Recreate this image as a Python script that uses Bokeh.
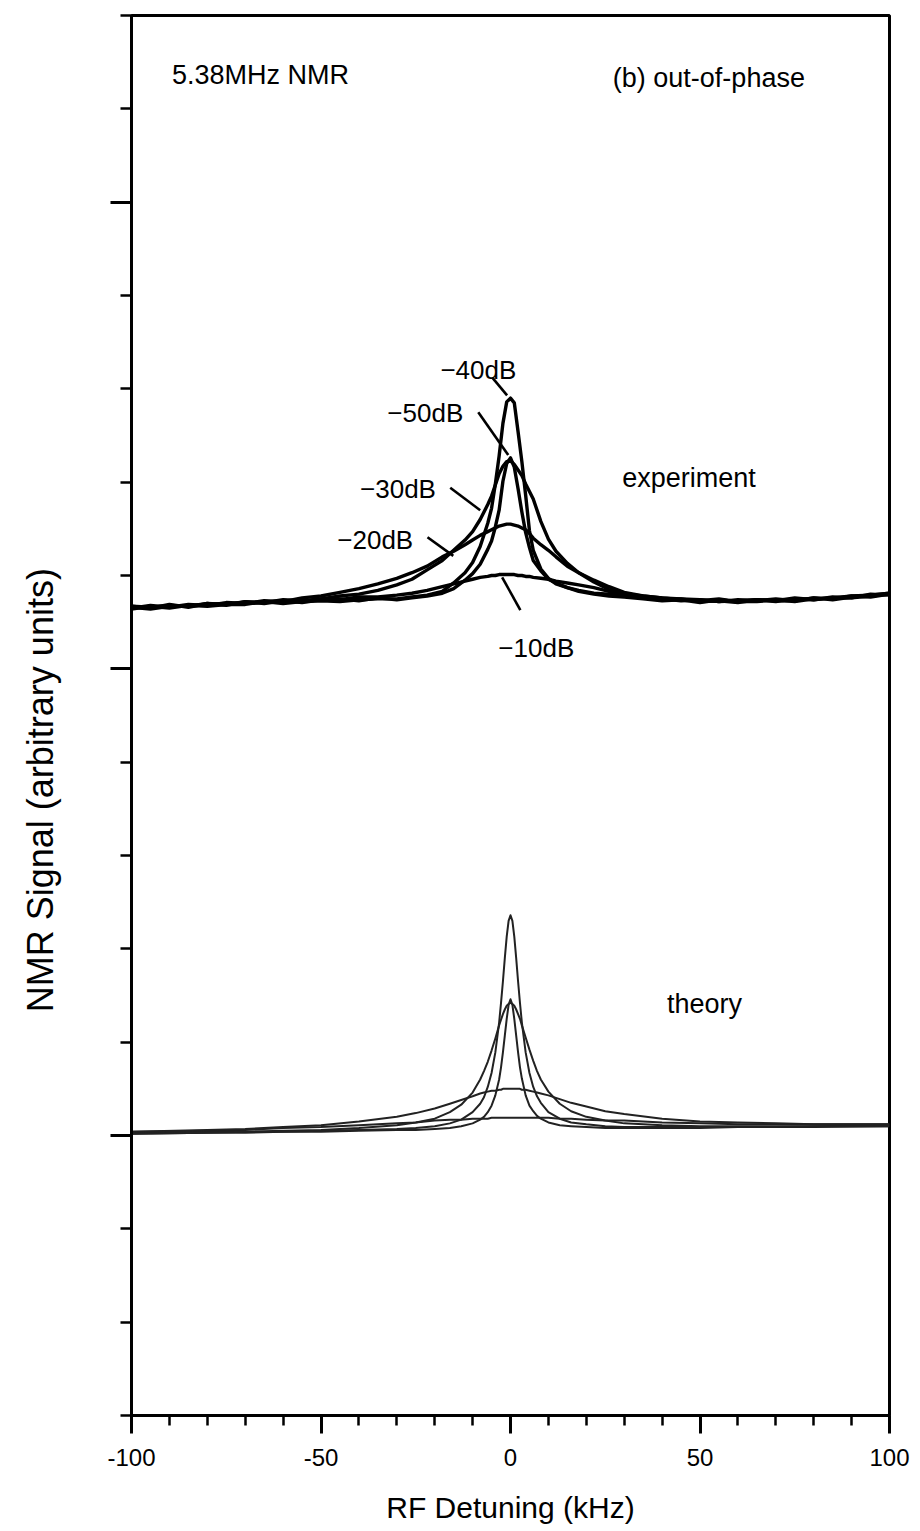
import math
from bokeh.plotting import figure
from bokeh.layouts import row
from bokeh.models import Range1d, SingleIntervalTicker, Label
from bokeh.core.properties import value
from bokeh.embed import file_html
from bokeh.resources import INLINE

FONT = "Liberation Sans"

# ---- measured out-of-phase NMR traces (RF detuning in kHz, signal in arb. units)
exp_detuning = [-100, -95, -90, -85, -80, -75, -70, -65, -60, -55, -50, -45, -40, -35, -30,
                -26, -22, -18, -15, -12, -10, -8, -6, -5, -4, -3, -2, -1, 0,
                1, 2, 3, 4, 5, 6, 8, 10, 12, 15, 18, 22, 26,
                30, 35, 40, 45, 50, 55, 60, 65, 70, 75, 80, 85, 90, 95, 100]

exp_m10 = [5.67, 5.65, 5.69, 5.66, 5.70, 5.69, 5.72, 5.70, 5.73, 5.72, 5.75, 5.74, 5.77, 5.77, 5.79,
           5.81, 5.84, 5.88, 5.91, 5.94, 5.96, 5.98, 5.99, 6.00, 6.00, 6.01, 6.01, 6.01, 6.01,
           6.01, 6.00, 6.00, 5.99, 5.99, 5.98, 5.97, 5.96, 5.94, 5.92, 5.90, 5.87, 5.83,
           5.80, 5.78, 5.76, 5.75, 5.74, 5.72, 5.74, 5.73, 5.75, 5.73, 5.76, 5.75, 5.78, 5.79, 5.81]

exp_m20 = [5.65, 5.68, 5.66, 5.69, 5.68, 5.71, 5.70, 5.73, 5.72, 5.76, 5.78, 5.82, 5.86, 5.91, 5.97,
           6.03, 6.10, 6.20, 6.26, 6.33, 6.38, 6.43, 6.47, 6.49, 6.51, 6.53, 6.54, 6.55, 6.55,
           6.54, 6.53, 6.51, 6.49, 6.45, 6.40, 6.33, 6.27, 6.20, 6.10, 6.03, 5.95, 5.88,
           5.82, 5.78, 5.76, 5.74, 5.73, 5.75, 5.72, 5.74, 5.73, 5.76, 5.74, 5.77, 5.76, 5.80, 5.79]

exp_m30 = [5.67, 5.66, 5.68, 5.67, 5.70, 5.68, 5.72, 5.71, 5.74, 5.73, 5.75, 5.78, 5.80, 5.84, 5.90,
           5.96, 6.06, 6.16, 6.27, 6.38, 6.47, 6.60, 6.76, 6.85, 6.97, 7.09, 7.17, 7.22, 7.23,
           7.19, 7.13, 7.07, 6.98, 6.90, 6.82, 6.58, 6.39, 6.26, 6.13, 6.03, 5.93, 5.85,
           5.80, 5.76, 5.75, 5.73, 5.74, 5.72, 5.73, 5.74, 5.72, 5.75, 5.74, 5.76, 5.78, 5.77, 5.80]

exp_m40 = [5.64, 5.67, 5.65, 5.68, 5.67, 5.69, 5.69, 5.72, 5.70, 5.72, 5.73, 5.72, 5.74, 5.75, 5.75,
           5.77, 5.79, 5.83, 5.92, 6.03, 6.14, 6.31, 6.56, 6.72, 6.98, 7.28, 7.63, 7.86, 7.90,
           7.85, 7.54, 7.22, 6.86, 6.48, 6.27, 6.07, 5.97, 5.91, 5.87, 5.84, 5.81, 5.80,
           5.78, 5.77, 5.74, 5.75, 5.72, 5.73, 5.71, 5.74, 5.73, 5.73, 5.76, 5.74, 5.77, 5.79, 5.81]

exp_m50 = [5.66, 5.64, 5.67, 5.67, 5.69, 5.70, 5.70, 5.71, 5.73, 5.71, 5.74, 5.75, 5.73, 5.76, 5.74,
           5.76, 5.78, 5.81, 5.86, 5.95, 6.02, 6.12, 6.28, 6.37, 6.52, 6.70, 7.01, 7.20, 7.26,
           7.16, 6.93, 6.68, 6.46, 6.30, 6.16, 6.05, 5.96, 5.92, 5.87, 5.83, 5.80, 5.78,
           5.77, 5.75, 5.73, 5.74, 5.71, 5.74, 5.72, 5.72, 5.74, 5.72, 5.75, 5.76, 5.76, 5.78, 5.80]

# ---- calculated line shapes for the same RF levels
th_detuning = [-100, -80, -70, -60, -50, -40, -30, -25, -20, -16, -13, -10, -8, -7, -6, -5, -4,
               -3, -2.5, -2, -1.5, -1, -0.5, 0, 0.5, 1, 1.5, 2, 2.5, 3,
               4, 5, 6, 7, 8, 10, 13, 16, 20, 25, 30, 40, 50, 60, 70, 80, 100]

th_m40 = [0.02, 0.03, 0.04, 0.04, 0.05, 0.06, 0.07, 0.08, 0.10, 0.13, 0.17, 0.25, 0.34, 0.41, 0.52, 0.67, 0.89,
          1.21, 1.42, 1.65, 1.90, 2.13, 2.30, 2.36, 2.30, 2.13, 1.90, 1.65, 1.42, 1.21,
          0.89, 0.67, 0.52, 0.42, 0.35, 0.25, 0.18, 0.14, 0.12, 0.10, 0.09, 0.09, 0.09, 0.09, 0.09, 0.10, 0.10]

th_m50 = [0.02, 0.03, 0.03, 0.04, 0.04, 0.05, 0.06, 0.06, 0.07, 0.08, 0.10, 0.13, 0.17, 0.20, 0.25, 0.32, 0.43,
          0.60, 0.73, 0.89, 1.07, 1.25, 1.40, 1.46, 1.40, 1.25, 1.07, 0.89, 0.73, 0.61,
          0.43, 0.32, 0.26, 0.21, 0.18, 0.14, 0.11, 0.10, 0.09, 0.08, 0.08, 0.08, 0.08, 0.09, 0.09, 0.09, 0.10]

th_m30 = [0.03, 0.04, 0.04, 0.05, 0.06, 0.08, 0.11, 0.14, 0.18, 0.25, 0.33, 0.46, 0.60, 0.69, 0.79, 0.91, 1.04,
          1.18, 1.24, 1.30, 1.35, 1.39, 1.41, 1.42, 1.41, 1.39, 1.35, 1.30, 1.25, 1.18,
          1.05, 0.92, 0.80, 0.69, 0.60, 0.47, 0.34, 0.26, 0.20, 0.16, 0.13, 0.11, 0.10, 0.10, 0.10, 0.10, 0.11]

th_m20 = [0.04, 0.06, 0.07, 0.09, 0.11, 0.15, 0.20, 0.24, 0.29, 0.34, 0.38, 0.42, 0.45, 0.46, 0.47, 0.48, 0.48,
          0.49, 0.49, 0.50, 0.50, 0.50, 0.50, 0.50, 0.50, 0.50, 0.50, 0.50, 0.50, 0.49,
          0.49, 0.48, 0.47, 0.46, 0.45, 0.43, 0.39, 0.35, 0.31, 0.26, 0.23, 0.18, 0.15, 0.14, 0.13, 0.12, 0.12]

th_m10 = [0.04, 0.05, 0.06, 0.08, 0.09, 0.11, 0.13, 0.14, 0.16, 0.17, 0.17, 0.18, 0.18, 0.18, 0.18, 0.19, 0.19,
          0.19, 0.19, 0.19, 0.19, 0.19, 0.19, 0.19, 0.19, 0.19, 0.19, 0.19, 0.19, 0.19,
          0.19, 0.19, 0.19, 0.19, 0.19, 0.19, 0.18, 0.18, 0.17, 0.16, 0.16, 0.14, 0.13, 0.12, 0.12, 0.12, 0.12]

# ---- RF level labels: text, anchor, and leader line end points (data units)
level_text = ["\u221240dB", "\u221250dB", "\u221230dB", "\u221220dB", "\u221210dB"]
level_x = [-18.5, -32.5, -39.7, -45.7, -3.2]
level_y = [8.20, 7.74, 6.93, 6.38, 5.22]
leader_x0 = [-4.8, -8.5, -15.9, -21.9, -2.2]
leader_y0 = [8.12, 7.75, 6.94, 6.41, 5.98]
leader_x1 = [-0.9, -0.6, -8.0, -15.1, 2.6]
leader_y1 = [7.93, 7.29, 6.70, 6.21, 5.63]

Y_TITLE = "NMR Signal (arbitrary units)"
Y_TITLE_POS = (40, 3.70)   # strip x (px), signal units
LEFT_STRIP = 70            # width of the strip holding the vertical axis title

signal_range = Range1d(-3, 12)

p = figure(width=920 - LEFT_STRIP, height=1531, output_backend="svg", toolbar_location=None,
           x_range=Range1d(-100, 100), y_range=signal_range,
           min_border_left=131 - LEFT_STRIP, min_border_right=31,
           min_border_top=15, min_border_bottom=116)
p.background_fill_color = "white"
p.border_fill_color = "white"
p.xgrid.visible = False
p.ygrid.visible = False
p.outline_line_color = "black"
p.outline_line_width = 3

# narrow strip carrying the vertical axis title, sharing the signal scale
strip = figure(width=LEFT_STRIP, height=1531, output_backend="svg", toolbar_location=None,
               x_range=Range1d(0, LEFT_STRIP), y_range=signal_range,
               x_axis_location=None, y_axis_location=None,
               min_border_left=0, min_border_right=0, min_border_top=15, min_border_bottom=116)
strip.outline_line_color = None
strip.background_fill_color = "white"
strip.border_fill_color = "white"
strip.xgrid.visible = False
strip.ygrid.visible = False
strip.text(x=[Y_TITLE_POS[0]], y=[Y_TITLE_POS[1]], text=[Y_TITLE], angle=math.pi / 2,
           text_font=value(FONT), text_font_size="36px", text_color="black",
           text_align="center", text_baseline="middle")

# theory: thin grey-black lines
for ys in (th_m10, th_m20, th_m30, th_m50, th_m40):
    p.line(th_detuning, ys, line_color="#222222", line_width=2.0, line_join="round")

# experiment: heavy black traces
for ys in (exp_m10, exp_m20, exp_m30, exp_m50, exp_m40):
    p.line(exp_detuning, ys, line_color="black", line_width=3.4, line_join="round")

p.segment(leader_x0, leader_y0, leader_x1, leader_y1, line_color="black", line_width=2.6)

for t, x, y in zip(level_text, level_x, level_y):
    p.add_layout(Label(x=x, y=y, text=t, text_font=FONT, text_font_size="26px",
                       text_color="black", text_baseline="alphabetic", text_align="left"))

notes = [("5.38MHz NMR", -89.3, 11.36), ("(b) out-of-phase", 27.0, 11.33),
         ("experiment", 29.5, 7.04), ("theory", 41.3, 1.41)]
for t, x, y in notes:
    p.add_layout(Label(x=x, y=y, text=t, text_font=FONT, text_font_size="27px",
                       text_color="black", text_baseline="alphabetic", text_align="left"))

# axes
xa = p.xaxis[0]
xa.ticker = SingleIntervalTicker(interval=50, num_minor_ticks=5)
xa.major_label_overrides = {-100: "-100", -50: "-50", 0: "0", 50: "50", 100: "100"}
xa.axis_line_width = 3
xa.major_tick_line_width = 3
xa.minor_tick_line_width = 2.5
xa.major_tick_in = 0
xa.major_tick_out = 18
xa.minor_tick_in = 0
xa.minor_tick_out = 10
xa.major_label_text_font = FONT
xa.major_label_text_font_size = "24px"
xa.major_label_text_color = "black"
xa.major_label_standoff = 15
xa.axis_label = "RF Detuning (kHz)"
xa.axis_label_text_font = FONT
xa.axis_label_text_font_size = "30px"
xa.axis_label_text_font_style = "normal"
xa.axis_label_text_color = "black"
xa.axis_label_standoff = 22

ya = p.yaxis[0]
ya.ticker = SingleIntervalTicker(interval=5, num_minor_ticks=5)
ya.axis_line_width = 3
ya.major_tick_line_width = 3
ya.minor_tick_line_width = 2.5
ya.major_tick_in = 0
ya.major_tick_out = 21
ya.minor_tick_in = 0
ya.minor_tick_out = 11
ya.major_label_text_color = None

layout = row(strip, p, spacing=0)
open("out.html", "w").write(file_html(layout, INLINE))
